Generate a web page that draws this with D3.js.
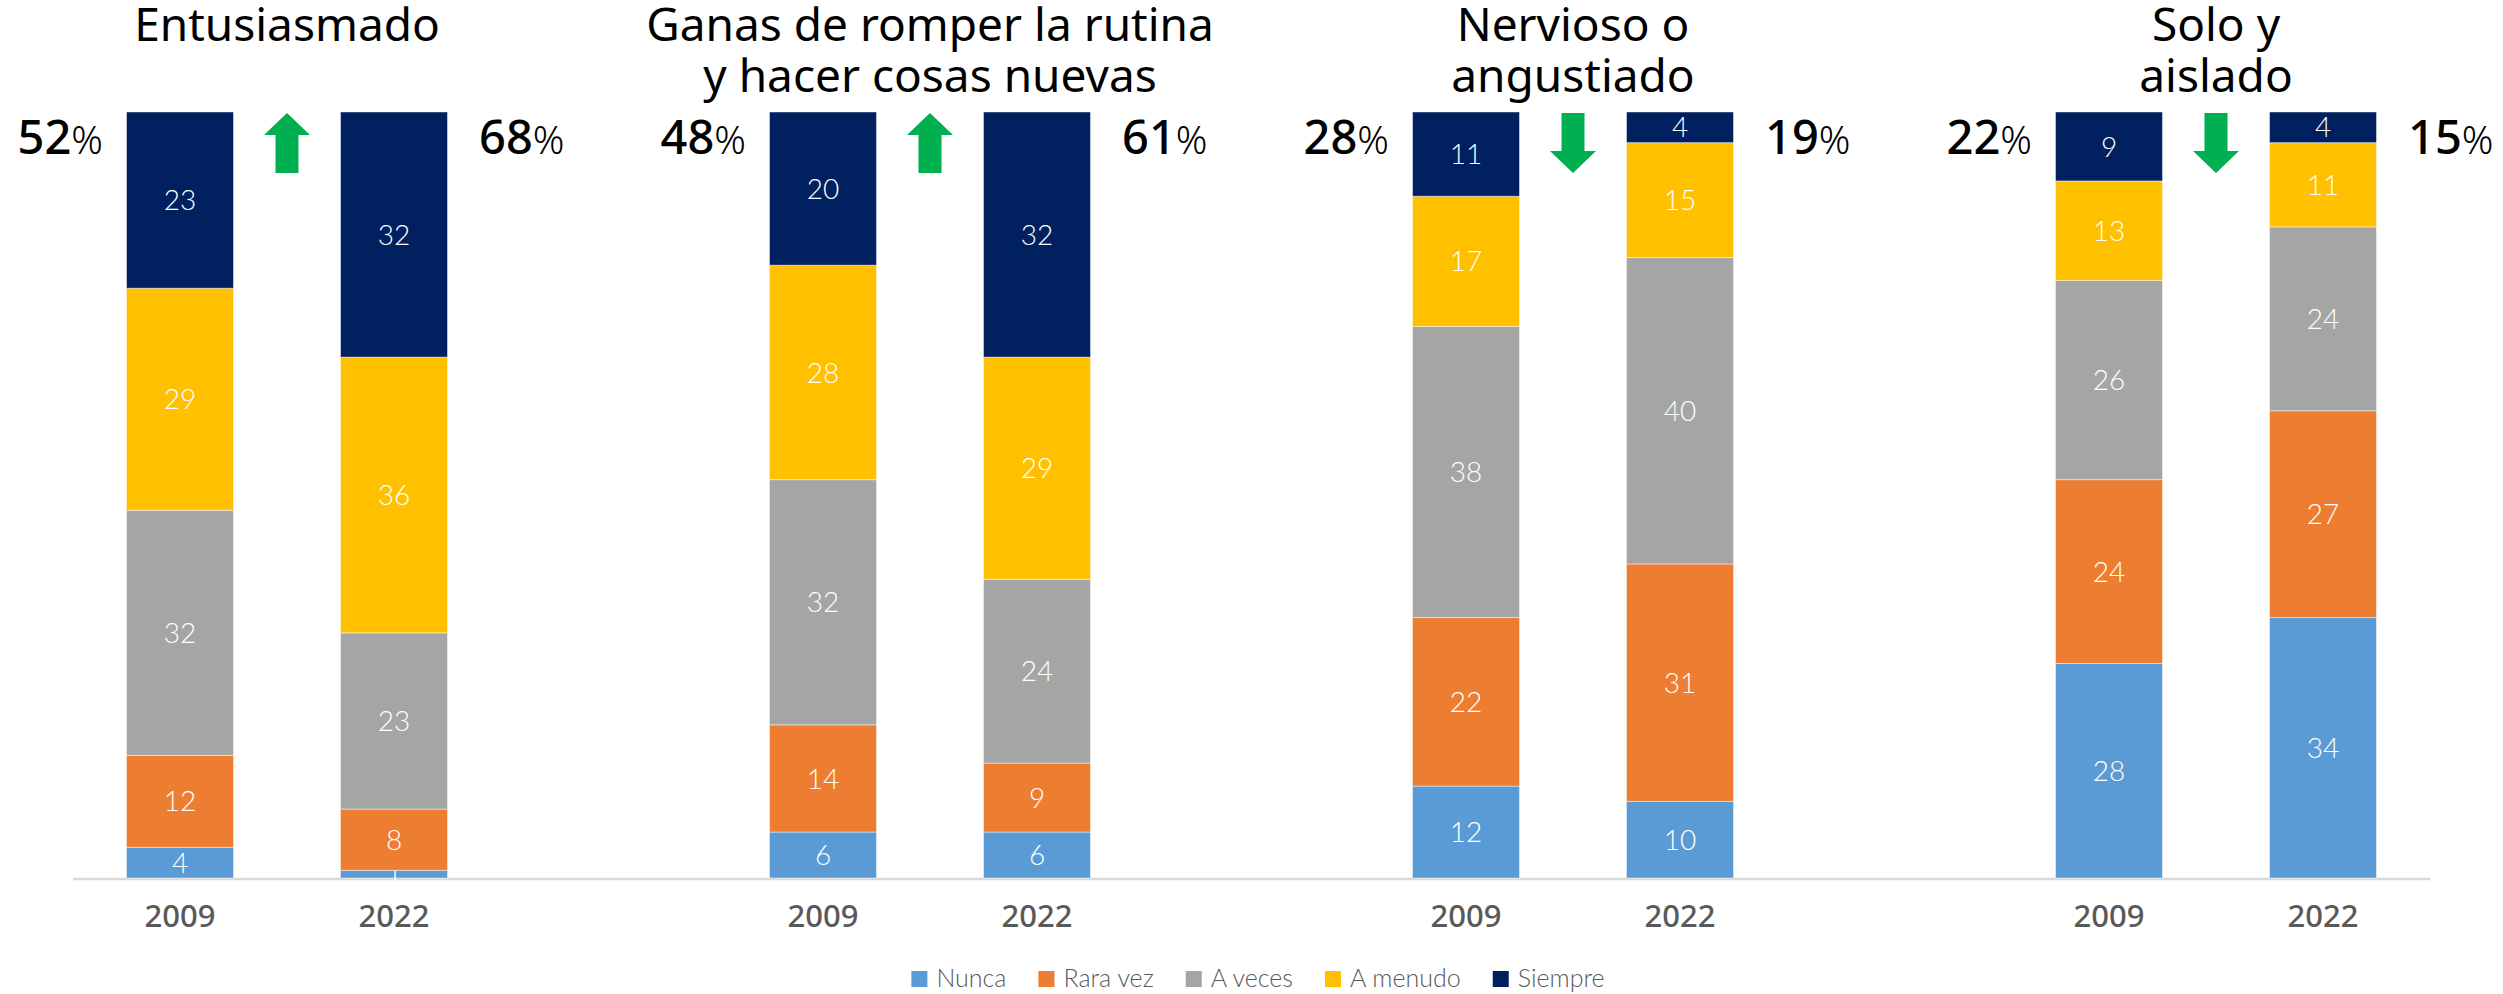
<!DOCTYPE html>
<html>
<head>
<meta charset="utf-8">
<script src="https://cdn.jsdelivr.net/npm/d3@7"></script>
<style>
  html, body { margin: 0; padding: 0; background: #fff; }
  svg { display: block; }
</style>
</head>
<body>
<svg id="chart" width="2503" height="994"></svg>
<script>
// Chart data
const titles = [
    ["Entusiasmado"],
    ["Ganas de romper la rutina", "y hacer cosas nuevas"],
    ["Nervioso o", "angustiado"],
    ["Solo y", "aislado"]
];
const years = ["2009", "2022"];
const categories = ["Nunca", "Rara vez", "A veces", "A menudo", "Siempre"];
const colors = ["#5B9BD5", "#ED7D31", "#A5A5A5", "#FFC000", "#002060"];

// values per panel, bottom to top: Nunca, Rara vez, A veces, A menudo, Siempre
const values2009 = [
    [4, 12, 32, 29, 23],
    [6, 14, 32, 28, 20],
    [12, 22, 38, 17, 11],
    [28, 24, 26, 13, 9]
];
const values2022 = [
    [1, 8, 23, 36, 32],
    [6, 9, 24, 29, 32],
    [10, 31, 40, 15, 4],
    [34, 27, 24, 11, 4]
];
const pct2009 = [52, 48, 28, 22];
const pct2022 = [68, 61, 19, 15];

// Layout
const svg = d3.select("#chart");
const panelStart = 73, panelStep = 643, panelWidth = 428;
const baseY = 878, topY = 112;

const y = d3.scaleLinear().domain([0, 100]).range([baseY, topY]);
const color = d3.scaleOrdinal(categories, colors);

// continuous baseline across all panels
svg.append("line")
    .attr("x1", panelStart)
    .attr("x2", panelStart + panelStep * (titles.length - 1) + panelWidth)
    .attr("y1", baseY + 1).attr("y2", baseY + 1)
    .attr("stroke", "#d9d9d9")
    .attr("stroke-width", 2.5);

titles.forEach((lines, i) => {
    const p0 = panelStart + panelStep * i;
    const x = d3.scaleBand()
        .domain(years)
        .range([p0, p0 + panelWidth])
        .paddingInner(0.5)
        .paddingOuter(0.25);

    const g = svg.append("g");

    const rows = years.map((yr, j) => {
        const vals = j === 0 ? values2009[i] : values2022[i];
        const row = { year: yr };
        categories.forEach((c, k) => row[c] = vals[k]);
        return row;
    });
    const series = d3.stack().keys(categories)(rows);

    const layer = g.selectAll("g.layer")
        .data(series)
        .join("g")
        .attr("class", "layer")
        .attr("fill", d => color(d.key));

    layer.selectAll("rect")
        .data(d => d)
        .join("rect")
        .attr("x", d => x(d.data.year))
        .attr("width", x.bandwidth())
        .attr("y", d => y(d[1]))
        .attr("height", d => y(d[0]) - y(d[1]))
        .attr("stroke", "#ffffff")
        .attr("stroke-opacity", 0.45)
        .attr("stroke-width", 1);

    layer.selectAll("text")
        .data(d => d)
        .join("text")
        .attr("x", d => x(d.data.year) + x.bandwidth() / 2)
        .attr("y", d => (y(d[0]) + y(d[1])) / 2)
        .attr("dy", "0.36em")
        .attr("text-anchor", "middle")
        .attr("fill", "#ffffff")
        .style("font-family", "Lato, 'Noto Sans', sans-serif")
        .style("font-weight", 300)
        .style("font-size", "28px")
        .text(d => d[1] - d[0]);

    // year labels
    const axis = g.append("g")
        .attr("transform", `translate(0,${baseY})`)
        .call(d3.axisBottom(x).tickSize(0).tickPadding(27));
    axis.select(".domain").remove();
    axis.selectAll("text")
        .attr("fill", "#595959")
        .style("font-family", "'Noto Sans', sans-serif")
        .style("font-weight", 500)
        .style("font-size", "31px");

    // title
    const cx = p0 + panelWidth / 2;
    g.append("text")
        .attr("text-anchor", "middle")
        .style("font-family", "'Noto Sans', sans-serif")
        .style("font-size", "46px")
        .attr("fill", "#000")
        .selectAll("tspan")
        .data(lines)
        .join("tspan")
        .attr("x", cx)
        .attr("y", (d, k) => 41 + k * 51)
        .text(d => d);

    // top-two percentages
    const pctLabel = (sel, v) => {
        sel.append("tspan")
            .style("font-size", "47px")
            .style("font-weight", 500)
            .text(v);
        sel.append("tspan")
            .style("font-size", "39px")
            .style("font-weight", 300)
            .text("%");
    };
    g.append("text")
        .attr("x", p0 + 30)
        .attr("y", 154)
        .attr("text-anchor", "end")
        .style("font-family", "'Noto Sans', sans-serif")
        .attr("fill", "#000")
        .call(pctLabel, pct2009[i]);
    g.append("text")
        .attr("x", p0 + 406)
        .attr("y", 154)
        .attr("text-anchor", "start")
        .style("font-family", "'Noto Sans', sans-serif")
        .attr("fill", "#000")
        .call(pctLabel, pct2022[i]);

    // change arrow
    const up = pct2022[i] > pct2009[i];
    const ax = cx, hw = 23, sw = 11.5, t = 113, b = 173, head = 22;
    const pts = up
        ? [[ax, t], [ax + hw, t + head], [ax + sw, t + head], [ax + sw, b], [ax - sw, b], [ax - sw, t + head], [ax - hw, t + head]]
        : [[ax, b], [ax + hw, b - head], [ax + sw, b - head], [ax + sw, t], [ax - sw, t], [ax - sw, b - head], [ax - hw, b - head]];
    g.append("polygon")
        .attr("points", pts.map(p => p.join(",")).join(" "))
        .attr("fill", "#00B050");
});

// Legend
const legend = svg.append("g").attr("transform", "translate(0,979)");
let lx = 0;
const items = legend.selectAll("g")
    .data(categories)
    .join("g");
items.append("rect")
    .attr("x", 0).attr("y", -8)
    .attr("width", 16).attr("height", 16)
    .attr("fill", d => color(d));
items.append("text")
    .attr("x", 25)
    .attr("y", 8)
    .attr("fill", "#595959")
    .style("font-family", "Lato, 'Noto Sans', sans-serif")
    .style("font-weight", 300)
    .style("font-size", "25px")
    .text(d => d);
items.each(function() {
    const w = d3.select(this).select("text").node().getComputedTextLength();
    d3.select(this).attr("transform", `translate(${lx},0)`);
    lx += 25 + w + 32;
});
lx -= 32;
legend.attr("transform", `translate(${1258 - lx / 2},979)`);
</script>
</body>
</html>
